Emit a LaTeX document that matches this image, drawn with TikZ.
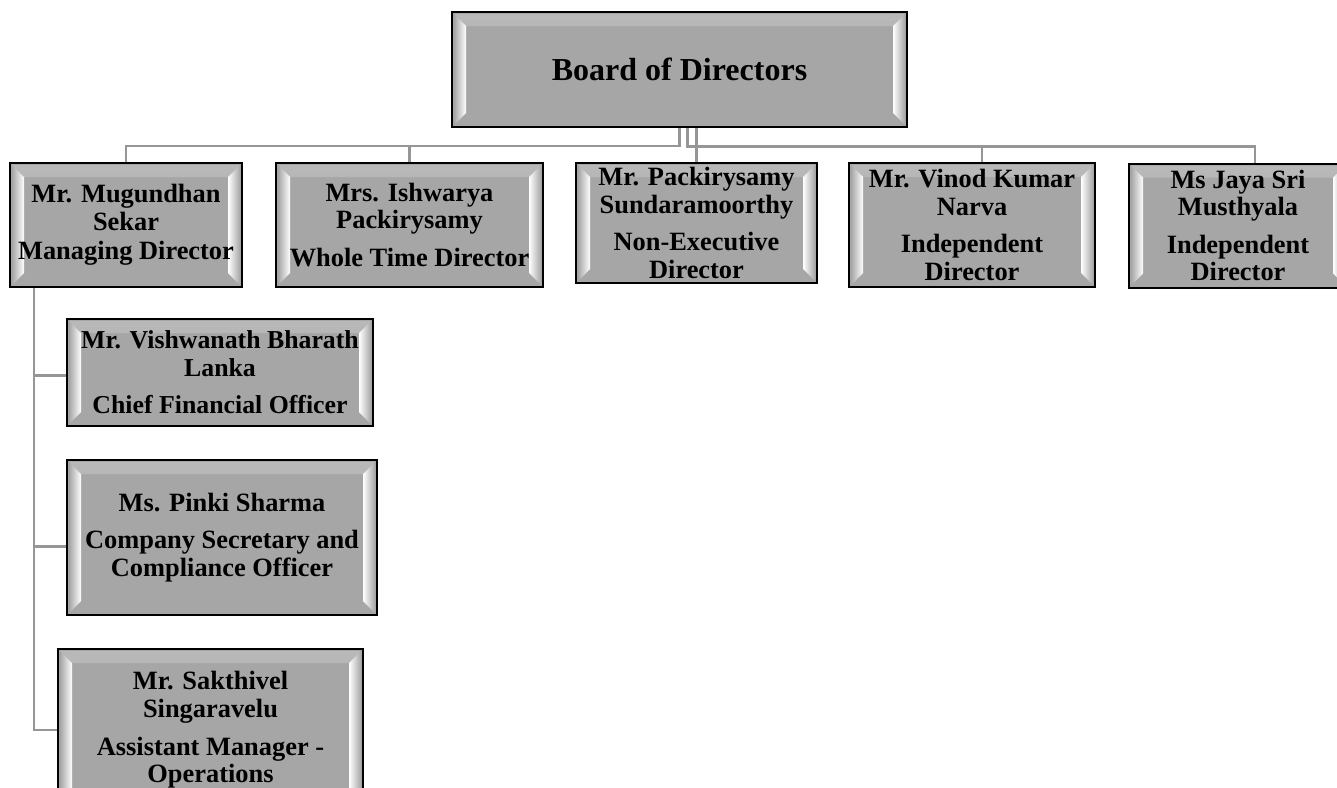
\documentclass[tikz,border=0pt]{standalone}
\usepackage{fontspec}
\setmainfont{Liberation Serif}
\usepackage{xcolor}
\usepackage{tikz}
\usetikzlibrary{calc}

\definecolor{boxgray}{RGB}{166,166,166}
\definecolor{linkgray}{RGB}{150,150,150}

\tikzset{
  orgbox/.style={draw=black, line width=1pt, fill=boxgray, align=center,
    inner sep=0pt, font=\bfseries\fontsize{13.2}{13.8}\selectfont,
    path picture={
      % top and bottom bevel
      \shade[top color=gray!55, bottom color=boxgray]
        ([shift={(1pt,-1pt)}]path picture bounding box.north west)
        -- ([shift={(-1pt,-1pt)}]path picture bounding box.north east)
        -- ++(-6pt,-6pt) -- ([shift={(7pt,-7pt)}]path picture bounding box.north west) -- cycle;
      \shade[top color=boxgray, bottom color=gray!70]
        ([shift={(1pt,1pt)}]path picture bounding box.south west)
        -- ([shift={(-1pt,1pt)}]path picture bounding box.south east)
        -- ++(-6pt,6pt) -- ([shift={(7pt,7pt)}]path picture bounding box.south west) -- cycle;
      % side highlights
      \shade[left color=boxgray, right color=white]
        ([shift={(1pt,-1pt)}]path picture bounding box.north west) -- ++(6pt,-6pt)
        -- ([shift={(7pt,7pt)}]path picture bounding box.south west) -- ++(-6pt,-6pt) -- cycle;
      \shade[left color=white, right color=boxgray]
        ([shift={(-1pt,-1pt)}]path picture bounding box.north east) -- ++(-6pt,-6pt)
        -- ([shift={(-7pt,7pt)}]path picture bounding box.south east) -- ++(6pt,-6pt) -- cycle;
    }},
  link/.style={draw=linkgray, line width=1.3pt},
}

\begin{document}
\begin{tikzpicture}[x=0.5pt, y=-0.5pt]

\useasboundingbox (0,0) rectangle (1337,787);
\clip (0,0) rectangle (1337,787);

% Board
\node[orgbox, minimum width=227.5pt, minimum height=57.5pt,
  font=\bfseries\fontsize{16}{18}\selectfont] (board) at (679.5,69.5) {Board of Directors};

% Directors
\node[orgbox, minimum width=116pt, minimum height=62pt] (md) at (126,225)
  {Mr. Mugundhan\\Sekar\\[1pt]Managing Director};
\node[orgbox, minimum width=133.5pt, minimum height=62pt] (wtd) at (409.5,225)
  {Mrs. Ishwarya\\Packirysamy\\[5pt]Whole Time Director};
\node[orgbox, minimum width=120.5pt, minimum height=60pt] (ned) at (696.5,223)
  {Mr. Packirysamy\\Sundaramoorthy\\[5pt]Non-Executive\\Director};
\node[orgbox, minimum width=123pt, minimum height=62pt] (ida) at (972,225)
  {Mr. Vinod Kumar\\Narva\\[5pt]Independent\\Director};
\node[orgbox, minimum width=109pt, minimum height=62pt] (idb) at (1238,225.5)
  {Ms Jaya Sri\\Musthyala\\[5pt]Independent\\Director};

% Reporting to the managing director
\node[orgbox, minimum width=153pt, minimum height=53.5pt,
  font=\bfseries\fontsize{12.9}{13.8}\selectfont] (cfo) at (220,372.5)
  {Mr. Vishwanath Bharath\\Lanka\\[5pt]Chief Financial Officer};
\node[orgbox, minimum width=155pt, minimum height=77.5pt] (cs) at (222,537.5)
  {Ms. Pinki Sharma\\[5pt]Company Secretary and\\Compliance Officer};
\node[orgbox, minimum width=152.5pt, minimum height=81pt] (ops) at (210.5,730)
  {Mr. Sakthivel\\Singaravelu\\[5pt]Assistant Manager -\\Operations};

% Board to directors
\draw[link] (board.south) |- ([yshift=8pt]md.north) -- (md.north);
\draw[link] (board.south) |- ([yshift=8pt]wtd.north) -- (wtd.north);
\draw[link] ([xshift=8.5pt]board.south) -- ([xshift=8.5pt]board.south |- ned.north);
\draw[link] ([xshift=4pt]board.south) |- ([xshift=5pt,yshift=8pt]ida.north) -- ([xshift=5pt]ida.north);
\draw[link] ([xshift=4pt]board.south) |- ([xshift=8.5pt,yshift=8pt]idb.north) -- ([xshift=8.5pt]idb.north);

% Managing director to staff
\draw[link] ([xshift=12.5pt]md.south west) |- ([yshift=-1.5pt]cfo.west);
\draw[link] ([xshift=12.5pt]md.south west) |- ([yshift=-4.5pt]cs.west);
\draw[link] ([xshift=12.5pt]md.south west) |- (ops.west);

\end{tikzpicture}
\end{document}
